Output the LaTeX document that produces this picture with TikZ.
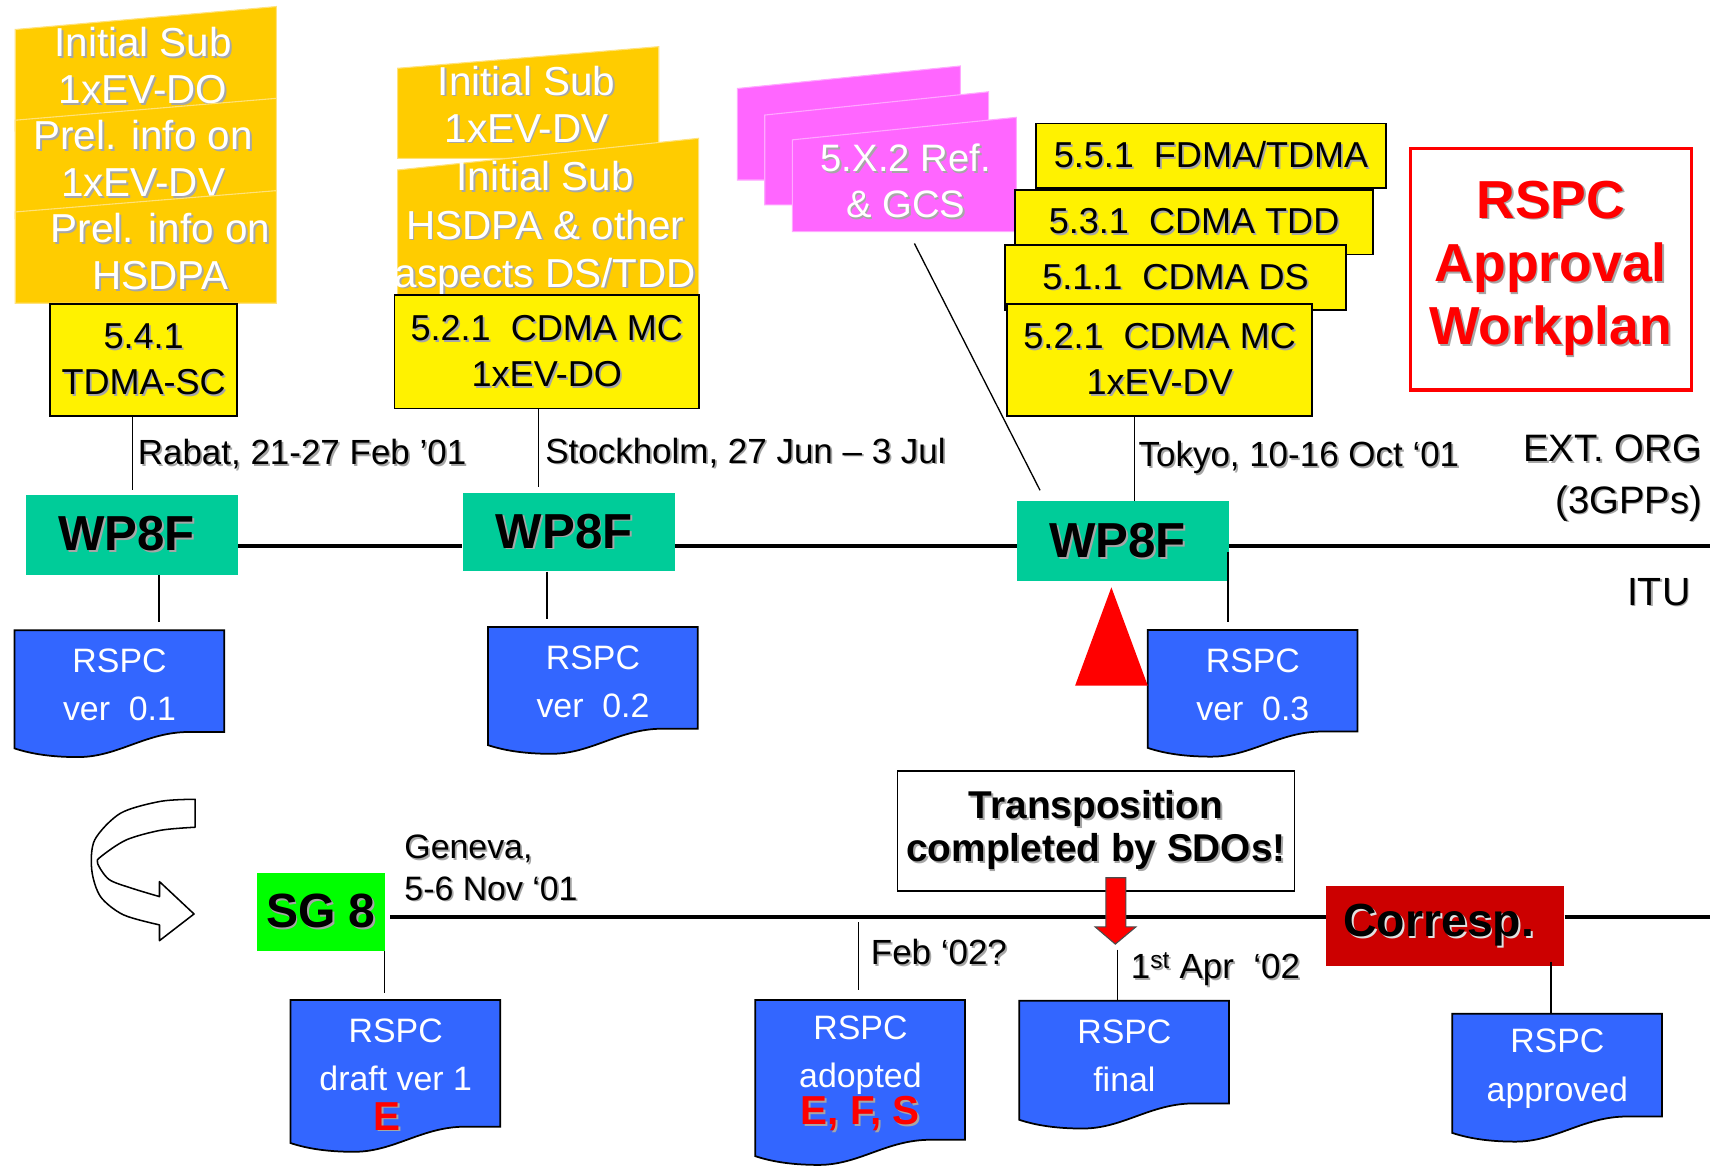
\documentclass[tikz,border=0pt]{standalone}
\usepackage{fontspec}
\setmainfont{Liberation Sans}
\usetikzlibrary{calc}

\definecolor{subOrange}{HTML}{FFCC00}
\definecolor{subLine}{HTML}{FFE27A}
\definecolor{refPink}{HTML}{FF66FF}
\definecolor{refLine}{HTML}{FFA8FF}
\definecolor{wpTeal}{HTML}{00CC99}
\definecolor{docBlue}{HTML}{3366FF}
\definecolor{sgGreen}{HTML}{00FF00}
\definecolor{corrRed}{HTML}{CC0000}
\definecolor{shadeGrey}{HTML}{A6A6A6}

% text with a small drop shadow
\newcommand{\shd}[2][shadeGrey]{\makebox[0pt][l]{\kern1.6pt\raisebox{-1.6pt}{\textcolor{#1}{#2}}}#2}

% RSPC document: name, left, top, height, text box height, text
\newcommand{\rspcdoc}[6]{%
  \path[docbody] (#2,#3) -- ({#2+192},#3) -- ({#2+192},{#3+#4-15}) -- ({#2+160},{#3+#4-15})
    .. controls ({#2+120},{#3+#4-15}) and ({#2+95},{#3+#4+8}) .. ({#2+58},{#3+#4+8})
    .. controls ({#2+30},{#3+#4+8}) and ({#2+12},{#3+#4+4}) .. (#2,{#3+#4}) -- cycle;
  \node[doctext, minimum height=#5] (#1) at (#2,#3) {#6};}

\tikzset{
  subbox/.style={fill=subOrange, draw=subLine, line width=1pt},
  refbox/.style={fill=refPink, draw=refLine, line width=1pt},
  subtext/.style={text=white, font=\fontsize{37}{43}\selectfont, align=center, inner sep=0pt},
  itembox/.style={fill=yellow, draw=black, line width=1.6pt, font=\fontsize{33}{42}\selectfont, align=center, inner sep=0pt},
  wpbox/.style={fill=wpTeal, minimum width=194pt, minimum height=73pt, inner sep=0pt, font=\bfseries\fontsize{45}{50}\selectfont},
  docbody/.style={fill=docBlue, draw=black, line width=1.6pt},
  doctext/.style={text=white, font=\fontsize{31}{44}\selectfont, align=center, inner sep=0pt, anchor=north west, minimum width=192pt},
  lbl/.style={font=\fontsize{32}{38}\selectfont, inner sep=0pt, anchor=base west},
  conn/.style={line width=1.2pt},
  timeline/.style={line width=3.8pt},
  turnarrow/.style={fill=white, draw=black, line width=1.4pt, line join=round},
  pusharrow/.style={fill=red, draw=black!70, line width=1pt},
}

\begin{document}
\begin{tikzpicture}[x=1pt,y=-1pt]

  \path[use as bounding box, fill=white] (0,0) rectangle (1568,1068);

  % initial submissions
  \path[subbox] (14,27) -- (253,6) -- (253,120) -- (14,120) -- cycle;
  \node[subtext] (subA) at (131,61) {\shd{Initial Sub}\\\shd{1xEV-DO}};
  \path[subbox] (14,110) -- (253,90) -- (253,200) -- (14,200) -- cycle;
  \node[subtext] (subB) at (131,146) {\shd{Prel. info on}\\\shd{1xEV-DV}};
  \path[subbox] (14,194) -- (253,174.5) -- (253,277.6) -- (14,277.6) -- cycle;
  \node[subtext] (subC) at (147,231) {\shd{Prel. info on}\\\shd{HSDPA}};
  \path[subbox] (364,62.5) -- (603,42.7) -- (603,145) -- (364,145) -- cycle;
  \node[subtext] (subD) at (482,96) {\shd{Initial Sub}\\\shd{1xEV-DV}};
  \path[subbox] (364,155.6) -- (639.5,126.6) -- (639.5,272) -- (364,272) -- cycle;
  \node[subtext, font=\fontsize{37}{44}\selectfont] (subE) at (499,210) {\shd{Initial Sub}\\\shd{HSDPA \& other}\\\shd{aspects DS/TDD}};

  % reference boxes
  \path[refbox] (675,81) -- (879,60.4) -- (879,164.8) -- (675,164.8) -- cycle;
  \path[refbox] (700,105.3) -- (905,84) -- (905,187.6) -- (700,187.6) -- cycle;
  \path[refbox] (725.3,128) -- (930.4,107.4) -- (930.4,212) -- (725.3,212) -- cycle;
  \node[subtext, font=\fontsize{35}{42}\selectfont, minimum width=205pt, minimum height=91pt] (ref) at (829,166.5) {\shd{5.X.2 Ref.}\\\shd{\& GCS}};

  % radio interfaces
  \node[itembox, minimum width=171pt, minimum height=103pt] (tdma) at (131.5,329.5) {\shd{5.4.1}\\\shd{TDMA-SC}};
  \node[itembox, minimum width=279pt, minimum height=104pt] (mcDO) at (500.5,322) {\shd{5.2.1~~CDMA MC}\\\shd{1xEV-DO}};
  \node[itembox, minimum width=321pt, minimum height=59pt] (fdma) at (1108.5,142.5) {\shd{5.5.1~~FDMA/TDMA}};
  \node[itembox, minimum width=328pt, minimum height=59pt] (tdd) at (1093,203.5) {\shd{5.3.1~~CDMA TDD}};
  \node[itembox, minimum width=312pt, minimum height=60pt] (ds) at (1076,254) {\shd{5.1.1~~CDMA DS}};
  \node[itembox, minimum width=279pt, minimum height=103pt] (mcDV) at (1061.5,329.5) {\shd{5.2.1~~CDMA MC}\\\shd{1xEV-DV}};

  \node[draw=red, line width=3pt, minimum width=257pt, minimum height=221pt, inner sep=0pt, align=center,
        text=red, font=\bfseries\fontsize{49}{58}\selectfont] (plan) at (1419.5,246.4) {\shd{RSPC}\\\shd{Approval}\\\shd{Workplan}};

  % WP8F meetings
  \node[wpbox] (wp1) at (121,489.5) {\shd{WP8F}\hspace*{10pt}};
  \node[wpbox, minimum height=72pt] (wp2) at (520.5,487) {\shd{WP8F}\hspace*{8pt}};
  \node[wpbox] (wp3) at (1028,495.5) {\shd{WP8F}\hspace*{10pt}};
  \coordinate (tlA) at (1565,499.7);
  \path[timeline] (wp1.east |- tlA) edge (wp2.west |- tlA);
  \path[timeline] (wp2.east |- tlA) edge (wp3.west |- tlA);
  \path[timeline] (wp3.east |- tlA) edge (tlA);

  \node[lbl] (rabat) at (126,425) {\shd{Rabat, 21-27 Feb ’01}};
  \node[lbl] (stock) at (499,424) {\shd{Stockholm, 27 Jun – 3 Jul}};
  \node[lbl] (tokyo) at (1042,427) {\shd{Tokyo, 10-16 Oct ‘01}};
  \node[font=\fontsize{35}{47}\selectfont, align=right, inner sep=0pt, anchor=north east] (ext) at (1558,398) {\shd{EXT. ORG}\\\shd{(3GPPs)}};
  \node[font=\fontsize{36}{40}\selectfont, inner sep=0pt, anchor=base east] (itu) at (1547.5,554) {\shd{ITU}};

  \path[conn] (tdma.south -| wp1.north) edge ($(wp1.north)+(0,-4)$);
  \path[conn] ($(mcDO.south)+(-7.6,0)$) edge ($(mcDO.south |- wp2.north)+(-7.6,-4.6)$);
  \path[conn] ($(mcDV.south)+(-22.8,0)$) edge ($(mcDV.south |- wp3.north)+(-22.8,0)$);
  \path[conn] ($(ref.south)+(8,10.7)$) edge ($(wp3.north)+(-76,-10)$);

  % draft documents
  \rspcdoc{doc1}{13.2}{577}{108}{100}{RSPC\\ver~~0.1}
  \rspcdoc{doc2}{446.6}{574}{108}{100}{RSPC\\ver~~0.2}
  \rspcdoc{doc3}{1050.6}{576.6}{108}{100}{RSPC\\ver~~0.3}
  \fill[red] (1017.3,537.6) -- (1050.6,627.6) -- (984.1,627.6) -- cycle;

  \path[conn] ($(wp1.south)+(24.5,0)$) edge ($(wp1.south |- doc1.north)+(24.5,-7.4)$);
  \path[conn] ($(wp2.south)+(-19.8,0)$) edge ($(wp2.south |- doc2.north)+(-19.8,-7)$);
  \path[conn] ($(wp3.east |- tlA)+(-1.3,6)$) edge ($(wp3.east |- doc3.north)+(-1.3,-7.6)$);

  % SG 8 line
  \path[turnarrow] plot[smooth] coordinates {(178.6,731.6) (147,733.5) (110.3,744.4) (86.7,768.8) (84,796.3) (92,820.7) (113,837.4) (146,846.6)}
    -- (146,861) -- (177.6,836.6) -- (146,807)
    -- plot[smooth] coordinates {(146,820.7) (120.8,813.1) (99.8,805) (89.3,790.2) (92.5,784) (115.6,768.8) (147,760) (178.6,757.2)} -- cycle;

  \node[fill=sgGreen, minimum width=116.5pt, minimum height=71.7pt, inner sep=0pt, font=\bfseries\fontsize{44}{50}\selectfont] (sg) at (293.8,834.7) {\shd{SG 8}};
  \node[font=\fontsize{31}{38}\selectfont, align=left, inner sep=0pt, anchor=north west] (geneva) at (370,764) {\shd{Geneva,}\\\shd{5-6 Nov ‘01}};

  \node[draw=black, fill=white, line width=1.6pt, minimum width=363.5pt, minimum height=110pt, inner sep=0pt, align=center,
        font=\bfseries\fontsize{35.5}{39}\selectfont] (trans) at (1003.2,760.6) {\shd{Transposition}\\\shd{completed by SDOs!}};
  \node[fill=corrRed, minimum width=218pt, minimum height=73pt, inner sep=0pt, font=\bfseries\fontsize{42.5}{48}\selectfont] (corr) at (1323,847.5) {\shd[black!12]{Corresp.}\hspace*{12pt}};

  \coordinate (tlB) at (1565,839);
  \path[timeline] ($(sg.east |- tlB)+(5,0)$) edge (corr.west |- tlB);
  \path[timeline] (corr.east |- tlB) edge (tlB);

  \path[pusharrow] ($(trans.south)+(9,-13)$) -- ++(18.4,0) -- ++(0,45) -- ++(9.2,0) -- ++(-18.9,15.8) coordinate (pushTip)
    -- ++(-18.5,-15.8) -- ++(9.8,0) -- cycle;

  \node[lbl] (feb) at (797,883) {\shd{Feb ‘02?}};
  \node[lbl] (apr) at (1035,895.5) {\shd{1\textsuperscript{st} Apr~~‘02}};

  \rspcdoc{doc4}{266}{915.3}{131}{138}{RSPC\\draft ver 1\\[-8pt]{\color{red}\bfseries\fontsize{37}{44}\selectfont\shd{E}\hspace*{16pt}}}
  \rspcdoc{doc5}{691.4}{915.3}{143}{136}{RSPC\\adopted\\[-10pt]{\color{red}\bfseries\fontsize{37}{44}\selectfont\shd{E, F, S}}}
  \rspcdoc{doc6}{933}{916}{109}{100}{RSPC\\final}
  \rspcdoc{doc7}{1329.3}{928}{109}{100}{RSPC\\approved}

  \path[conn] ($(sg.south east)+(-0.5,0)$) edge ($(sg.south east |- doc4.north)+(-0.5,-6)$);
  \path[conn] ($(doc5.north |- tlB)+(-2,5)$) edge ($(doc5.north)+(-2,-9)$);
  \path[conn] ($(pushTip)+(2,5)$) edge ($(pushTip |- doc6.north)+(2,0)$);
  \path[conn] ($(corr.south east)+(-12.4,-4)$) edge ($(corr.south east |- doc7.north)+(-12.4,0)$);

\end{tikzpicture}
\end{document}
